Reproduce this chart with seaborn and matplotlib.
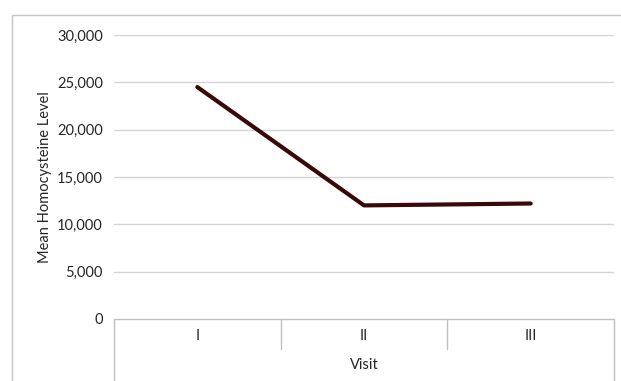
import matplotlib
matplotlib.use("Agg")
import matplotlib.pyplot as plt
import matplotlib.patches as mpatches
import matplotlib.ticker as mticker
import seaborn as sns
import pandas as pd

visits = ["I", "II", "III"]
mean_homocysteine = [24500, 12000, 12200]
y_ticks = [0, 5000, 10000, 15000, 20000, 25000, 30000]

df = pd.DataFrame({"Visit": visits, "Mean": mean_homocysteine})
df["pos"] = range(len(visits))

sns.set_theme(style="white")
plt.rcParams["font.family"] = ["Lato", "DejaVu Sans"]

W, H = 621, 381
fig = plt.figure(figsize=(W / 100, H / 100), dpi=100)
left, right, top, bottom = 114, 614, 35, 319
ax = fig.add_axes([left / W, 1 - bottom / H, (right - left) / W, (bottom - top) / H])

# outer chart frame
fig.patches.append(mpatches.Rectangle((12 / W, -0.1), 1.2, 1 - 15 / H + 0.1,
                                      transform=fig.transFigure, fill=False,
                                      edgecolor="#c4c4c4", linewidth=1.0))

grid_color = "#d4d4d4"
for t in y_ticks[1:]:
    ax.axhline(t, color=grid_color, linewidth=1.0, zorder=1)

sns.lineplot(data=df, x="pos", y="Mean", ax=ax, color="#3b0808",
             linewidth=3.0, solid_capstyle="round", zorder=3)

ax.set_xlim(-0.5, len(visits) - 0.5)
ax.set_ylim(0, 30000)
ax.set_yticks(y_ticks)
ax.yaxis.set_major_formatter(mticker.FuncFormatter(lambda v, p: f"{int(v):,}"))
ax.tick_params(axis="y", length=0, pad=8, labelsize=10.5, labelcolor="#262626")
ax.set_xticks([])
for s in ax.spines.values():
    s.set_visible(False)

# category axis box
line_kw = dict(color="#bfbfbf", linewidth=1.0, clip_on=False, zorder=2)
ax.plot([-0.5, len(visits) - 0.5], [0, 0], **line_kw)
box_bottom = -(H - bottom + 5) / (bottom - top)
inner_bottom = -(349 - bottom) / (bottom - top)
xt = ax.get_xaxis_transform()
for i in range(len(visits) + 1):
    xb = i - 0.5
    yb = box_bottom if i in (0, len(visits)) else inner_bottom
    ax.plot([xb, xb], [0, yb], transform=xt, **line_kw)
for i, lab in enumerate(visits):
    ax.text(i, -(336 - bottom) / (bottom - top), lab, transform=xt,
            ha="center", va="center", fontsize=10.5, color="#262626")
ax.text(1, -(365 - bottom) / (bottom - top), "Visit", transform=xt,
        ha="center", va="center", fontsize=10.5, color="#262626")

ax.set_xlabel("")
ax.set_ylabel("Mean Homocysteine Level", fontsize=10.5, color="#262626")
ax.yaxis.set_label_coords(-(114 - 52) / (right - left), 0.5)

fig.savefig("out.png", dpi=100)
